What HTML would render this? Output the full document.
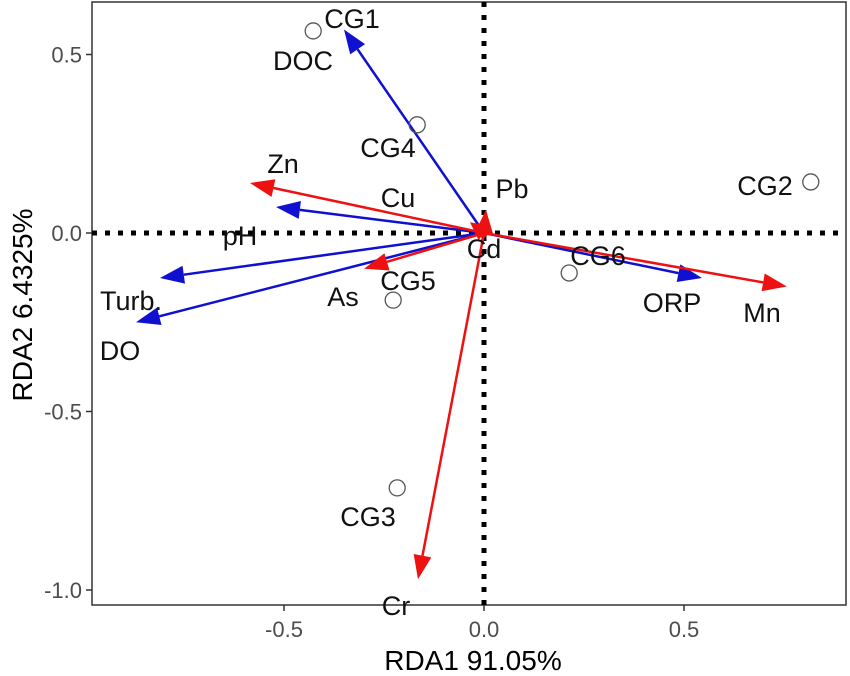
<!DOCTYPE html>
<html><head><meta charset="utf-8"><style>body{margin:0;background:#fff}svg{display:block;font-family:"Liberation Sans",sans-serif}</style></head>
<body>
<svg id="chart" width="850" height="676" viewBox="0 0 850 676">
<g id="plot"></g>
</svg>
<script>
const xTicks=[-0.5,0.0,0.5];
const xTickLabels=["-0.5","0.0","0.5"];
const yTicks=[0.5,0.0,-0.5,-1.0];
const yTickLabels=["0.5","0.0","-0.5","-1.0"];
const blueNames=["DOC","pH","Turb.","DO","ORP"];
const blueX=[-0.35,-0.52,-0.81,-0.87,0.545];
const blueY=[0.57,0.073,-0.126,-0.25,-0.126];
const redNames=["Zn","Cu","Pb","As","Cr","Mn","Cd"];
const redX=[-0.585,-0.035,0.005,-0.3,-0.165,0.757,0.01];
const redY=[0.14,0.03,0.065,-0.1,-0.97,-0.15,-0.005];
const siteNames=["CG1","CG4","CG2","CG6","CG5","CG3"];
const siteX=[-0.427,-0.167,0.817,0.213,-0.227,-0.217];
const siteY=[0.566,0.303,0.143,-0.112,-0.188,-0.714];
const labelPos={"CG1":[352,28],"DOC":[303,70],"CG4":[388,157],"Zn":[283,173],"Cu":[398,207],"Pb":[512,198],"CG2":[765,195],"pH":[240,245],"Cd":[484,258],"CG6":[598,265],"CG5":[408,290],"As":[343,306],"ORP":[672,312],"Mn":[762,322],"Turb.":[131,310],"DO":[120,360],"CG3":[368,526],"Cr":[396,615]};

const L=92,R=846,T=2,B=605;
const sx=v=>484+v*400, sy=v=>233-v*357;
const NS="http://www.w3.org/2000/svg";
const g=document.getElementById('plot');
function mk(t,a,p){const e=document.createElementNS(NS,t);for(const k in a)e.setAttribute(k,a[k]);(p||g).appendChild(e);return e;}

let e=mk('rect',{x:L,y:T,width:R-L,height:B-T,fill:'none',stroke:'#333','stroke-width':1.5});


e=mk('line',{x1:L,x2:R,y1:sy(0),y2:sy(0),stroke:'#000','stroke-width':5,'stroke-dasharray':'5 8'});


e=mk('line',{x1:sx(0),x2:sx(0),y1:T,y2:B,stroke:'#000','stroke-width':5,'stroke-dasharray':'5 8'});



xTicks.forEach((v,i)=>{
 let t=mk('line',{x1:sx(v),x2:sx(v),y1:B,y2:B+6,stroke:'#333','stroke-width':1.5});
 
 
 t=mk('text',{x:sx(v),y:B+32,'text-anchor':'middle','font-size':22,fill:'#4d4d4d'});t.textContent=xTickLabels[i];
 
 
});
yTicks.forEach((v,i)=>{
 let t=mk('line',{x1:L-6,x2:L,y1:sy(v),y2:sy(v),stroke:'#333','stroke-width':1.5});
 
 
 t=mk('text',{x:L-10,y:sy(v)+8,'text-anchor':'end','font-size':22,fill:'#4d4d4d'});t.textContent=yTickLabels[i];
 
 
});
e=mk('text',{x:473,y:670,'text-anchor':'middle','font-size':28,fill:'#000'});e.textContent='RDA1 91.05%';


e=mk('text',{x:0,y:0,'text-anchor':'middle','font-size':28,fill:'#000',transform:'translate(32,305) rotate(-90)'});e.textContent='RDA2 6.4325%';



function arrow(x,y,col,name){
 const x0=sx(0),y0=sy(0),x1=sx(x),y1=sy(y);
 const dx=x1-x0,dy=y1-y0,len=Math.hypot(dx,dy)||1,ux=dx/len,uy=dy/len;
 const hl=Math.min(24,len),hw=9;
 const bx=x1-ux*hl,by=y1-uy*hl;
 const grp=mk('g',{});
 
 
 mk('line',{x1:x0,y1:y0,x2:bx,y2:by,stroke:col,'stroke-width':2.5},grp);
 mk('polygon',{points:`${x1},${y1} ${bx-uy*hw},${by+ux*hw} ${bx+uy*hw},${by-ux*hw}`,fill:col},grp);
}
blueNames.forEach((n,i)=>arrow(blueX[i],blueY[i],'#1010d0',n));
redNames.forEach((n,i)=>arrow(redX[i],redY[i],'#ee1111',n));
siteNames.forEach((n,i)=>{
 const c=mk('circle',{cx:sx(siteX[i]),cy:sy(siteY[i]),r:8,fill:'none',stroke:'#555','stroke-width':1.3});
 
 
});
Object.keys(labelPos).forEach(n=>{
 const p=labelPos[n];
 const t=mk('text',{x:p[0],y:p[1],'text-anchor':'middle','font-size':27,fill:'#111'});t.textContent=n;
 
 
});
</script>
</body></html>
